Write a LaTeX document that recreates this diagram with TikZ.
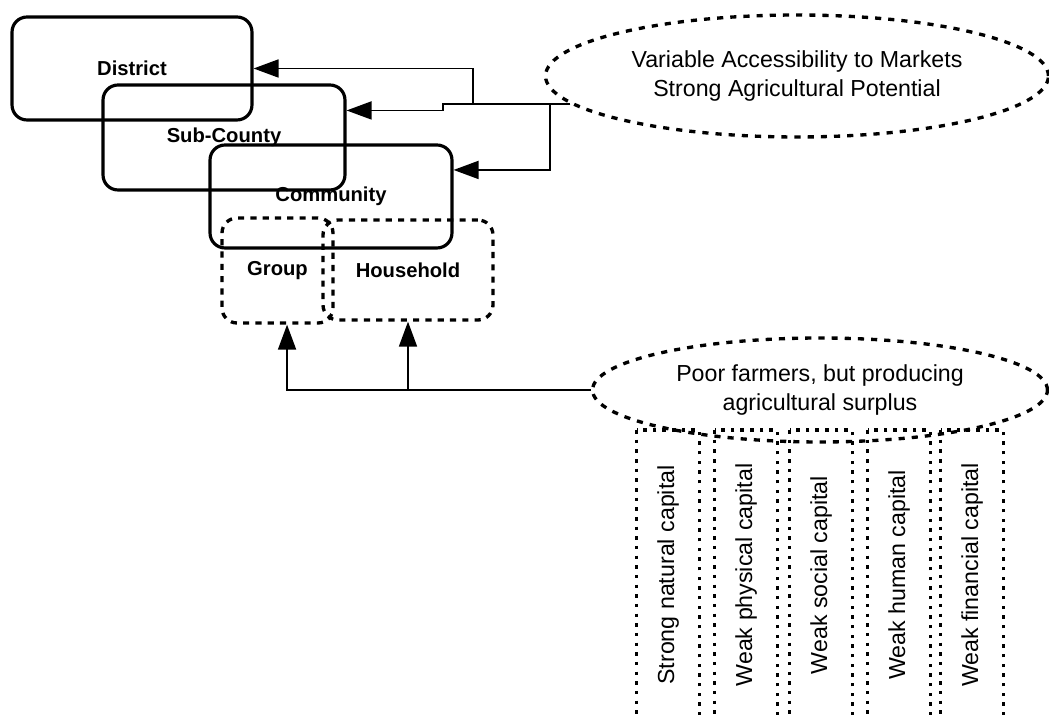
\documentclass[tikz,border=0pt]{standalone}
\usepackage{fontspec}
\setmainfont{Liberation Sans}
\usetikzlibrary{shapes.geometric,arrows.meta,calc}

\begin{document}
\begin{tikzpicture}[x=0.02cm,y=-0.02cm,
  level/.style={draw,line width=1.8pt,rounded corners=0.3cm,inner sep=0pt,
    font=\fontsize{11.5}{13}\selectfont\bfseries},
  unit/.style={draw,line width=1.9pt,dash pattern=on 3.5pt off 3.5pt,
    rounded corners=0.3cm,inner sep=0pt,font=\fontsize{11.5}{13}\selectfont\bfseries},
  cloud/.style={draw,ellipse,line width=1.9pt,dash pattern=on 3.5pt off 4pt,
    inner sep=0pt,align=center,font=\fontsize{13.2}{16.5}\selectfont},
  capital/.style={draw,line width=2pt,dash pattern=on 2pt off 3.5pt,rotate=90,
    inner sep=0pt,minimum width=5.8cm,minimum height=1.26cm,
    font=\fontsize{13.2}{15}\selectfont},
  conn/.style={line width=1pt,-{Triangle[length=0.5cm,width=0.36cm]}}]

  \useasboundingbox (0,0) rectangle (1049,715);
  \clip (0,0) rectangle (1049,715);

  % levels
  \node[level,minimum width=4.8cm,minimum height=2.06cm] (district) at (132,68.5) {District};
  \node[level,minimum width=4.84cm,minimum height=2.1cm] (subcounty) at (224,137.5) {Sub-County};
  \node[level,minimum width=4.84cm,minimum height=2.06cm] (community) at (331,196.5) {Community};
  \node[unit,minimum width=2.22cm,minimum height=2.1cm] (group) at (277.5,270.5) {Group};
  \node[unit,minimum width=3.4cm,minimum height=2cm] (household) at (408,270) {Household};

  % context
  \node[cloud,minimum width=10.06cm,minimum height=2.44cm] (market) at (797,76)
    {Variable Accessibility to Markets\\Strong Agricultural Potential};
  \node[cloud,minimum width=9.1cm,minimum height=2.08cm] (farmers) at (820,390)
    {Poor farmers, but producing\\agricultural surplus};

  % capitals
  \foreach \cx/\nm/\txt in {668/natural/Strong natural capital,
      746/physical/Weak physical capital, 821/social/Weak social capital,
      899/human/Weak human capital, 972/financial/Weak financial capital}
    \node[capital] (\nm) at (\cx,575) {\txt};

  % connectors
  \coordinate (tap) at (market.187);
  \coordinate (kink) at (443,0);
  \coordinate (dbranch) at (473,0);
  \coordinate (cbranch) at (550,0);
  \coordinate (scin) at ($(subcounty.north east)!0.25!(subcounty.south east)$);
  \coordinate (cmin) at ($(community.north east)!0.25!(community.south east)$);
  \draw[conn] (tap) -- (tap -| kink) -- (kink |- scin) -- (scin);
  \draw[conn] (tap -| dbranch) |- (district.east);
  \draw[conn] (tap -| cbranch) |- (cmin);

  \draw[conn] (farmers.west) -| (group.-80);
  \draw[conn] (farmers.west) -| (household.south);
\end{tikzpicture}
\end{document}
